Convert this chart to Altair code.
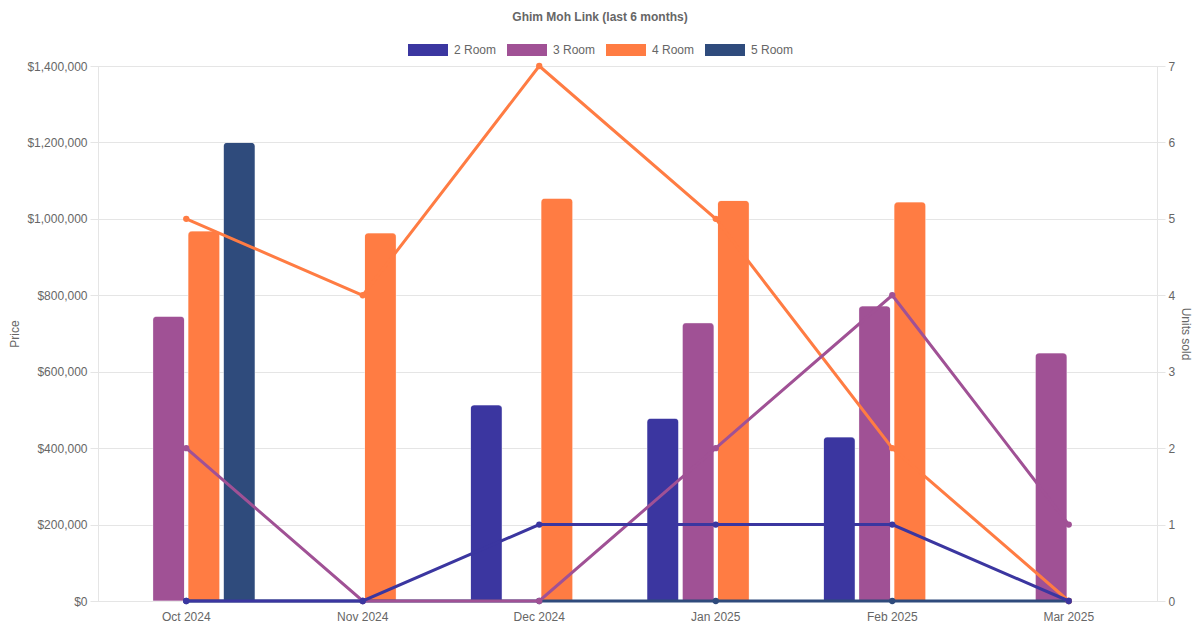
import altair as alt
import pandas as pd

months = ["Oct 2024", "Nov 2024", "Dec 2024", "Jan 2025", "Feb 2025", "Mar 2025"]
rooms = ["2 Room", "3 Room", "4 Room", "5 Room"]
colors = ["#3b36a0", "#a05195", "#ff7c43", "#2f4b7c"]

price_2 = [None, None, 513000, 478000, 429000, None]
price_3 = [745000, None, None, 728000, 772000, 649000]
price_4 = [968000, 963000, 1054000, 1048000, 1044000, None]
price_5 = [1200000, None, None, None, None, None]

units_2 = [0, 0, 1, 1, 1, 0]
units_3 = [2, 0, 0, 2, 4, 1]
units_4 = [5, 4, 7, 5, 2, 0]
units_5 = [0, 0, 0, 0, 0, 0]

price_values = [0, 200000, 400000, 600000, 800000, 1000000, 1200000, 1400000]
unit_values = [0, 1, 2, 3, 4, 5, 6, 7]

prices = {"2 Room": price_2, "3 Room": price_3, "4 Room": price_4, "5 Room": price_5}
units = {"2 Room": units_2, "3 Room": units_3, "4 Room": units_4, "5 Room": units_5}

bar_rows = []
for r in rooms:
    for m, v in zip(months, prices[r]):
        if v is not None:
            bar_rows.append({"month": m, "room": r, "price": v})
bar_df = pd.DataFrame(bar_rows)

unit_rows = []
for r in rooms:
    for m, v in zip(months, units[r]):
        unit_rows.append({"month": m, "room": r, "units": v})
unit_df = pd.DataFrame(unit_rows)

FONT = "Liberation Sans"
GRID = "#e5e5e5"
TXT = "#666666"

x_enc = alt.X(
    "month:N",
    sort=months,
    scale=alt.Scale(domain=months, paddingInner=0.2, paddingOuter=0.1),
    axis=alt.Axis(title=None, labelAngle=0, labelAlign="center", ticks=False, grid=False,
                  domainColor=GRID, labelColor=TXT, labelFontSize=12,
                  labelFont=FONT, labelPadding=10),
)

bars = alt.Chart(bar_df).mark_bar(
    cornerRadiusTopLeft=4, cornerRadiusTopRight=4,
    stroke="white", strokeOpacity=0.35, strokeWidth=1,
).encode(
    x=x_enc,
    xOffset=alt.XOffset("room:N", sort=rooms,
                        scale=alt.Scale(domain=rooms, paddingInner=0.1, paddingOuter=0.05)),
    y=alt.Y("price:Q",
            scale=alt.Scale(domain=[0, 1400000], nice=False),
            axis=alt.Axis(title="Price", orient="left", format="$,.0f", values=price_values,
                          grid=True, gridColor=GRID, domainColor=GRID, tickColor=GRID,
                          tickSize=8, labelPadding=3, labelColor=TXT, labelFontSize=12,
                          labelFont=FONT, titleColor=TXT, titleFontSize=12,
                          titleFont=FONT, titleFontWeight="normal", titlePadding=5)),
    color=alt.Color("room:N", sort=rooms,
                    scale=alt.Scale(domain=rooms, range=colors),
                    legend=alt.Legend(orient="none", legendX=310, legendY=-36,
                                      direction="horizontal", title=None,
                                      symbolType="M-1,-0.3H1V0.3H-1Z", symbolSize=1600,
                                      symbolStrokeWidth=0,
                                      labelColor=TXT, labelFontSize=12, labelFont=FONT,
                                      labelOffset=6, columnPadding=10)),
)


def line_layer(room, axis):
    c = colors[rooms.index(room)]
    return alt.Chart(unit_df).transform_filter(
        alt.datum.room == room
    ).mark_line(
        color=c, strokeWidth=3,
        point=alt.OverlayMarkDef(filled=True, size=40, color=c, opacity=1),
    ).encode(
        x=alt.X("month:N", sort=months),
        y=alt.Y("units:Q", scale=alt.Scale(domain=[0, 7], nice=False), axis=axis),
    )


right_axis = alt.Axis(title="Units sold", orient="right", values=unit_values,
                      grid=False, domainColor=GRID, tickColor=GRID, tickSize=8,
                      labelPadding=3, labelColor=TXT, labelFontSize=12, labelFont=FONT,
                      titleColor=TXT, titleFontSize=12, titleFont=FONT,
                      titleFontWeight="normal", titlePadding=4)

lines = alt.layer(
    line_layer("5 Room", right_axis),
    line_layer("4 Room", right_axis),
    line_layer("3 Room", right_axis),
    line_layer("2 Room", right_axis),
)

chart = alt.layer(bars, lines).resolve_scale(
    y="independent"
).properties(
    width=1059,
    height=535,
    autosize=alt.AutoSizeParams(type="none"),
    padding={"left": 90, "top": 58, "right": 35, "bottom": 21},
    title=alt.Title("Ghim Moh Link (last 6 months)", fontSize=12, fontWeight="bold",
                    color=TXT, font=FONT, anchor="middle", dx=-27.5, offset=6),
).configure_view(stroke=None).configure(background="white")

chart.save("out.html", embed_options={"renderer": "svg", "actions": False})
